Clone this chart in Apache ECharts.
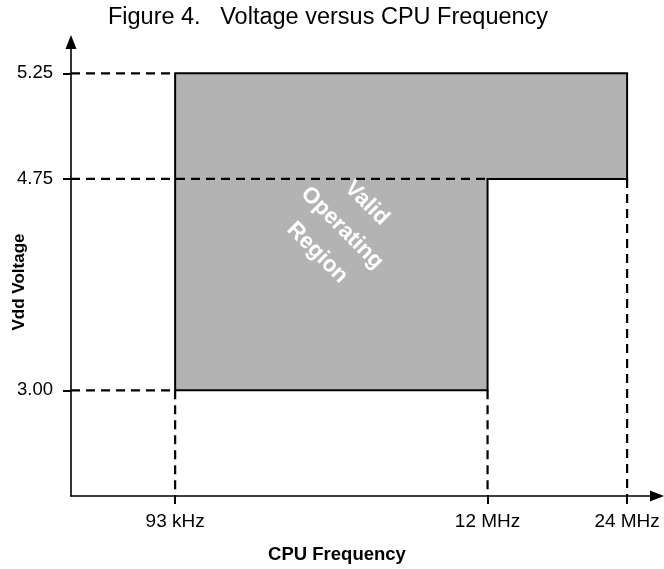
<!DOCTYPE html>
<html>
<head>
<meta charset="utf-8">
<script src="https://cdn.jsdelivr.net/npm/echarts@6/dist/echarts.min.js"></script>
<style>html,body{margin:0;padding:0;background:#fff}#chart{width:664px;height:569px}</style>
</head>
<body>
<div id="chart"></div>
<script>
// Tick labels and their (schematic, non-linear) slot positions along each axis
const freqLabels = ['93 kHz', '12 MHz', '24 MHz'];
const freqSlot = [1, 4, 5.34];
const voltLabels = ['3.00', '4.75', '5.25'];
const voltSlot = [1, 3, 4];
// Valid operating region corners: [frequency index, voltage index]
const regionCorners = [[0, 2], [2, 2], [2, 1], [1, 1], [1, 0], [0, 0]];
// Dashed guide lines: [from, to] as [frequency index, voltage index]; -1 = on the axis
const guides = [
  [[-1, 2], [0, 2]],
  [[-1, 1], [1, 1]],
  [[-1, 0], [0, 0]],
  [[0, 0], [0, -1]],
  [[1, 0], [1, -1]],
  [[2, 1], [2, -1]]
];
const regionText = 'Valid\nOperating\nRegion';
const titleText = 'Figure 4.   Voltage versus CPU Frequency';

const FONT = "'Liberation Sans', Arial, Helvetica, sans-serif";
const fx = i => (i < 0 ? 0 : freqSlot[i]);
const vy = i => (i < 0 ? 0 : voltSlot[i]);

const chart = echarts.init(document.getElementById('chart'), null, { renderer: 'canvas' });

function renderItem(params, api) {
  const poly = regionCorners.map(c => api.coord([fx(c[0]), vy(c[1])]));
  const children = [{
    type: 'polygon',
    shape: { points: poly },
    style: { fill: '#b3b3b3', stroke: '#000', lineWidth: 2 }
  }];
  guides.forEach(g => {
    const p1 = api.coord([fx(g[0][0]), vy(g[0][1])]);
    const p2 = api.coord([fx(g[1][0]), vy(g[1][1])]);
    children.push({
      type: 'line',
      shape: { x1: p1[0], y1: p1[1], x2: p2[0], y2: p2[1] },
      style: { stroke: '#000', lineWidth: 2.2, lineDash: [9, 6] }
    });
  });
  return { type: 'group', children };
}

const axisCommon = {
  type: 'value',
  min: 0,
  splitLine: { show: false },
  axisLine: {
    show: true,
    onZero: false,
    symbol: ['none', 'triangle'],
    symbolSize: [11, 14],
    lineStyle: { color: '#000', width: 1.6 }
  },
  axisTick: { show: true, length: 8, inside: false, lineStyle: { color: '#000', width: 2 } }
};

chart.setOption({
  animation: false,
  backgroundColor: '#fff',
  title: {
    text: titleText,
    left: 328,
    textAlign: 'center',
    top: 6,
    padding: 0,
    textStyle: { fontFamily: FONT, fontSize: 23.5, fontWeight: 'normal', color: '#000' }
  },
  grid: { left: 71, right: 7, top: 42, bottom: 73, containLabel: false },
  xAxis: Object.assign({}, axisCommon, {
    max: 5.627,
    axisTick: Object.assign({}, axisCommon.axisTick, { customValues: freqSlot }),
    axisLabel: {
      customValues: freqSlot,
      margin: 16,
      fontFamily: FONT, fontSize: 19, color: '#000',
      formatter: v => freqLabels[freqSlot.indexOf(v)]
    }
  }),
  yAxis: Object.assign({}, axisCommon, {
    max: 4.296,
    axisTick: Object.assign({}, axisCommon.axisTick, { customValues: voltSlot }),
    axisLabel: {
      customValues: voltSlot,
      margin: 18,
      fontFamily: FONT, fontSize: 18.5, color: '#000',
      formatter: v => voltLabels[voltSlot.indexOf(v)]
    }
  }),
  graphic: [
    {
      type: 'text', x: 337, y: 555, silent: true,
      style: { text: 'CPU Frequency', fontFamily: FONT, fontSize: 18.5, fontWeight: 'bold', fill: '#000', align: 'center', verticalAlign: 'middle' }
    },
    {
      type: 'text', x: 19, y: 282, rotation: Math.PI / 2, silent: true,
      style: { text: 'Vdd Voltage', fontFamily: FONT, fontSize: 17, fontWeight: 'bold', fill: '#000', align: 'center', verticalAlign: 'middle' }
    },
    {
      type: 'text', x: 342, y: 228, rotation: -Math.PI / 4, silent: true, z: 100,
      style: { text: regionText, fontFamily: FONT, fontSize: 22.5, fontWeight: 'bold', fill: '#fff', align: 'center', verticalAlign: 'middle', lineHeight: 35 }
    }
  ],
  series: [{
    type: 'custom',
    coordinateSystem: 'cartesian2d',
    renderItem: renderItem,
    data: [[0, 0]],
    silent: true,
    z: 1
  }]
});
</script>
</body>
</html>
